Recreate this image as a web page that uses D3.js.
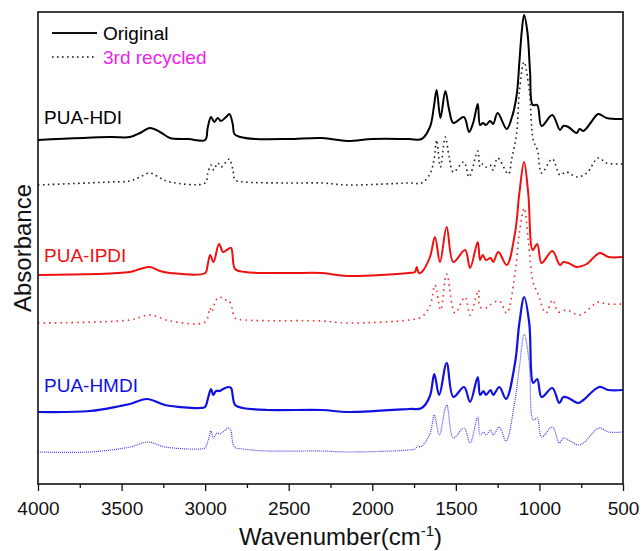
<!DOCTYPE html>
<html>
<head>
<meta charset="utf-8">
<script src="https://cdn.jsdelivr.net/npm/d3@7"></script>
<style>
  html, body { margin: 0; padding: 0; background: #fff; }
  svg { display: block; font-family: "Liberation Sans", Arial, sans-serif; }
  .tick text { font-size: 19px; fill: #111; }
</style>
</head>
<body>
<svg id="chart" width="643" height="551"></svg>
<script>
// FTIR spectra, stacked with offsets (absorbance in arbitrary units).
// Each series: [wavenumber (cm-1), absorbance incl. offset]

const hdiOriginal = [
  [4000, 3.44], [3570, 3.47], [3450, 3.47], [3390, 3.51], [3330, 3.56], [3270, 3.52],
  [3210, 3.46], [3100, 3.45], [3000, 3.44], [2985, 3.56], [2965, 3.67], [2945, 3.62],
  [2925, 3.66], [2905, 3.63], [2875, 3.67], [2855, 3.70], [2835, 3.60], [2825, 3.50],
  [2790, 3.47], [2700, 3.45], [2500, 3.45], [2300, 3.46], [2150, 3.43], [2000, 3.45],
  [1780, 3.45], [1705, 3.45], [1655, 3.57], [1630, 3.79], [1615, 3.94], [1592, 3.66],
  [1563, 3.93], [1540, 3.74], [1515, 3.61], [1452, 3.67], [1421, 3.52], [1395, 3.62],
  [1369, 3.80], [1355, 3.59], [1338, 3.61], [1320, 3.59], [1295, 3.63], [1277, 3.60],
  [1250, 3.71], [1196, 3.55], [1166, 3.66], [1136, 3.89], [1120, 4.22], [1106, 4.52],
  [1092, 4.69], [1072, 4.52], [1056, 4.12], [1040, 3.79], [1013, 3.79], [987, 3.58],
  [923, 3.69], [877, 3.54], [857, 3.58], [827, 3.57], [777, 3.51], [760, 3.55],
  [737, 3.53], [717, 3.56], [690, 3.62], [648, 3.70], [598, 3.66], [500, 3.65]
];

const hdiRecycled = [
  [4000, 2.99], [3570, 3.02], [3450, 3.03], [3390, 3.07], [3330, 3.11], [3270, 3.06],
  [3210, 3.02], [3000, 3.01], [2985, 3.10], [2965, 3.19], [2948, 3.14], [2925, 3.21],
  [2905, 3.17], [2875, 3.22], [2855, 3.25], [2835, 3.15], [2820, 3.04], [2760, 3.02],
  [2500, 3.01], [2300, 3.01], [2150, 2.99], [1780, 3.01], [1705, 3.01], [1655, 3.10],
  [1630, 3.25], [1615, 3.44], [1592, 3.17], [1563, 3.47], [1540, 3.27], [1515, 3.12],
  [1452, 3.22], [1421, 3.07], [1369, 3.33], [1355, 3.17], [1338, 3.20], [1320, 3.17],
  [1295, 3.19], [1277, 3.14], [1250, 3.26], [1186, 3.10], [1166, 3.25], [1136, 3.51],
  [1120, 3.92], [1092, 4.22], [1061, 3.94], [1037, 3.44], [1012, 3.34], [987, 3.11],
  [923, 3.25], [877, 3.09], [840, 3.12], [777, 3.07], [717, 3.11], [648, 3.26],
  [598, 3.21], [500, 3.20]
];

const ipdiOriginal = [
  [4000, 2.09], [3450, 2.12], [3390, 2.15], [3330, 2.17], [3270, 2.13], [3210, 2.11],
  [3000, 2.11], [2985, 2.19], [2970, 2.29], [2950, 2.22], [2917, 2.40], [2893, 2.32],
  [2871, 2.34], [2845, 2.36], [2821, 2.15], [2760, 2.12], [2500, 2.11], [2300, 2.11],
  [2150, 2.08], [1780, 2.11], [1745, 2.12], [1734, 2.17], [1722, 2.11], [1704, 2.12],
  [1655, 2.27], [1625, 2.47], [1595, 2.22], [1555, 2.57], [1515, 2.22], [1445, 2.34],
  [1415, 2.16], [1369, 2.42], [1355, 2.24], [1339, 2.29], [1320, 2.24], [1292, 2.26],
  [1276, 2.22], [1246, 2.32], [1196, 2.19], [1146, 2.51], [1120, 2.91], [1092, 3.22],
  [1067, 2.91], [1040, 2.34], [1013, 2.40], [987, 2.21], [923, 2.33], [877, 2.19],
  [857, 2.22], [827, 2.21], [777, 2.17], [747, 2.18], [717, 2.20], [638, 2.31],
  [588, 2.27], [500, 2.27]
];

const ipdiRecycled = [
  [4000, 1.61], [3450, 1.64], [3330, 1.69], [3210, 1.63], [3000, 1.62], [2971, 1.76],
  [2960, 1.72], [2935, 1.84], [2911, 1.87], [2887, 1.84], [2861, 1.84], [2841, 1.77],
  [2821, 1.66], [2760, 1.64], [2300, 1.63], [2150, 1.61], [1780, 1.64], [1705, 1.67],
  [1655, 1.78], [1625, 1.99], [1591, 1.74], [1555, 2.10], [1505, 1.71], [1445, 1.87],
  [1415, 1.69], [1365, 1.94], [1355, 1.77], [1320, 1.76], [1296, 1.79], [1240, 1.83],
  [1196, 1.71], [1146, 2.11], [1120, 2.51], [1091, 2.76], [1067, 2.44], [1037, 2.01],
  [1013, 1.92], [961, 1.71], [921, 1.84], [887, 1.72], [837, 1.74], [757, 1.69],
  [648, 1.82], [598, 1.80], [500, 1.80]
];

const hmdiOriginal = [
  [4000, 0.72], [3689, 0.73], [3509, 0.78], [3450, 0.80], [3348, 0.85], [3240, 0.79],
  [3031, 0.76], [3001, 0.77], [2981, 0.87], [2965, 0.95], [2951, 0.89], [2935, 0.93],
  [2911, 0.93], [2893, 0.95], [2861, 0.97], [2845, 0.96], [2821, 0.79], [2773, 0.76],
  [2632, 0.74], [2300, 0.74], [2150, 0.72], [1780, 0.75], [1704, 0.76], [1655, 0.88],
  [1629, 1.10], [1600, 0.89], [1555, 1.21], [1515, 0.87], [1451, 0.97], [1415, 0.82],
  [1369, 1.07], [1355, 0.89], [1335, 0.93], [1320, 0.89], [1292, 0.94], [1276, 0.89],
  [1240, 0.97], [1200, 0.85], [1146, 1.21], [1120, 1.61], [1091, 1.87], [1061, 1.61],
  [1037, 1.01], [1013, 1.05], [987, 0.87], [923, 0.96], [881, 0.81], [857, 0.87],
  [827, 0.86], [767, 0.81], [737, 0.84], [642, 0.97], [588, 0.94], [500, 0.94]
];

const hmdiRecycled = [
  [4000, 0.32], [3689, 0.32], [3450, 0.37], [3342, 0.42], [3240, 0.37], [3031, 0.35],
  [3001, 0.36], [2981, 0.44], [2965, 0.53], [2951, 0.46], [2929, 0.51], [2911, 0.50],
  [2893, 0.52], [2861, 0.56], [2847, 0.54], [2825, 0.37], [2773, 0.35], [2632, 0.33],
  [2300, 0.33], [2150, 0.32], [1780, 0.34], [1745, 0.35], [1727, 0.38], [1712, 0.37],
  [1655, 0.50], [1629, 0.69], [1599, 0.49], [1555, 0.79], [1515, 0.46], [1451, 0.56],
  [1415, 0.41], [1369, 0.67], [1355, 0.49], [1335, 0.52], [1320, 0.49], [1292, 0.54],
  [1276, 0.49], [1240, 0.57], [1200, 0.43], [1146, 0.84], [1120, 1.17], [1091, 1.50],
  [1061, 1.21], [1037, 0.64], [1013, 0.66], [987, 0.47], [923, 0.57], [881, 0.41],
  [857, 0.46], [827, 0.44], [767, 0.39], [737, 0.41], [642, 0.56], [588, 0.52],
  [500, 0.52]
];

const xTicks = [4000, 3500, 3000, 2500, 2000, 1500, 1000, 500];
const xMinorTicks = [3750, 3250, 2750, 2250, 1750, 1250, 750];

const samples = ["PUA-HDI", "PUA-IPDI", "PUA-HMDI"];
const sampleColors = ["#000000", "#f01010", "#1010e0"];
const sampleLabelY = [3.60, 2.22, 0.92];  // label baselines, in absorbance units

const legendLabels = ["Original", "3rd recycled"];
const legendTextColors = ["#000000", "#ee22ee"];

const series = [
  { data: hdiOriginal,  color: "#000000", width: 2,   dash: null },
  { data: hdiRecycled,  color: "#222222", width: 1.6, dash: "1.6,3.4" },
  { data: ipdiOriginal, color: "#f01010", width: 2,   dash: null },
  { data: ipdiRecycled, color: "#f03030", width: 1.6, dash: "1.6,4" },
  { data: hmdiOriginal, color: "#1010e0", width: 2.2, dash: null },
  { data: hmdiRecycled, color: "#4040e8", width: 1.2, dash: "1,1" },
];

const W = 643, H = 551;
const MARGIN = { top: 12, right: 20, bottom: 67, left: 38 };

const svg = d3.select("#chart");
const x = d3.scaleLinear().domain([4000, 500]).range([MARGIN.left, W - MARGIN.right]);
const y = d3.scaleLinear().domain([0, 4.72]).range([H - MARGIN.bottom, MARGIN.top]);

const line = d3.line()
  .x((d) => x(d[0]))
  .y((d) => y(d[1]))
  .curve(d3.curveCatmullRom.alpha(0.5));

// spectra
svg.append("g").selectAll("path")
  .data(series)
  .join("path")
    .attr("d", (d) => line(d.data))
    .attr("fill", "none")
    .attr("stroke", (d) => d.color)
    .attr("stroke-width", (d) => d.width)
    .attr("stroke-dasharray", (d) => d.dash)
    .attr("stroke-linejoin", "round");

// frame
svg.append("rect")
  .attr("x", x(4000)).attr("y", y(4.72))
  .attr("width", x(500) - x(4000)).attr("height", y(0) - y(4.72))
  .attr("fill", "none").attr("stroke", "#111").attr("stroke-width", 1.6);

// bottom axis: major + minor ticks, pointing outwards
const axisG = svg.append("g").attr("transform", `translate(0,${y(0)})`);
axisG.call(d3.axisBottom(x).tickValues(xTicks).tickFormat(d3.format("d"))
    .tickSize(7).tickSizeOuter(0).tickPadding(6))
  .call((g) => g.select(".domain").remove());
axisG.selectAll(".tick line").attr("stroke", "#111").attr("stroke-width", 1.3);
axisG.selectAll(".tick text").attr("font-size", 19).attr("dy", "0.95em");

const minorG = svg.append("g").attr("transform", `translate(0,${y(0)})`);
minorG.call(d3.axisBottom(x).tickValues(xMinorTicks).tickSize(4).tickFormat(""))
  .call((g) => g.select(".domain").remove());
minorG.selectAll(".tick line").attr("stroke", "#111").attr("stroke-width", 1.3);

// axis titles
const xTitle = svg.append("text")
  .attr("x", (x(4000) + x(500)) / 2 + 10).attr("y", 545)
  .attr("text-anchor", "middle").attr("font-size", 24).attr("fill", "#111");
xTitle.append("tspan").text("Wavenumber(cm");
xTitle.append("tspan").attr("font-size", 15).attr("dy", -9).text("-1");
xTitle.append("tspan").attr("dy", 9).text(")");

svg.append("text")
  .attr("transform", `translate(31,${(y(0) + y(4.72)) / 2}) rotate(-90)`)
  .attr("text-anchor", "middle").attr("font-size", 24).attr("fill", "#111")
  .text("Absorbance");

// sample labels
svg.append("g").selectAll("text")
  .data(samples)
  .join("text")
    .attr("x", 44)
    .attr("y", (d, i) => y(sampleLabelY[i]))
    .attr("font-size", 19)
    .attr("fill", (d, i) => sampleColors[i])
    .text((d) => d);

// legend
const legend = svg.append("g");
legendLabels.forEach((lab, i) => {
  const ly = 33 + i * 24;
  legend.append("line")
    .attr("x1", 52).attr("x2", 97).attr("y1", ly).attr("y2", ly)
    .attr("stroke", "#111").attr("stroke-width", i === 0 ? 1.8 : 1.6)
    .attr("stroke-dasharray", i === 0 ? null : "1.6,3.4");
  legend.append("text")
    .attr("x", 103).attr("y", ly + 6.5)
    .attr("font-size", 19).attr("fill", legendTextColors[i])
    .text(lab);
});
</script>
</body>
</html>
